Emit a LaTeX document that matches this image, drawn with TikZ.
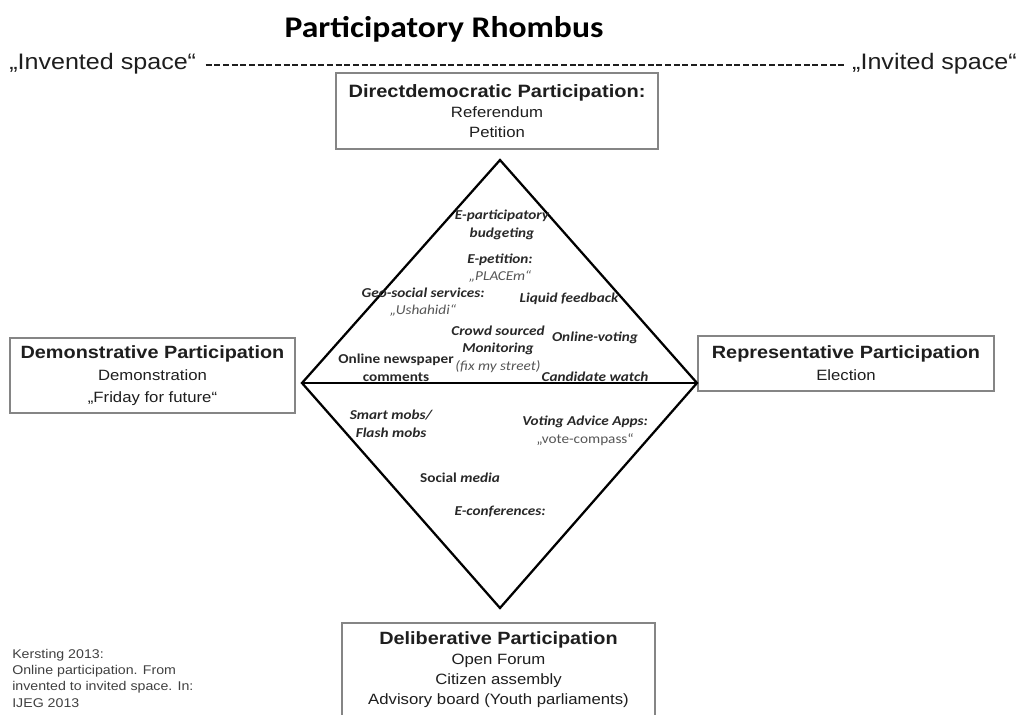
\documentclass[tikz,border=0pt]{standalone}
\usepackage{fontspec}
\setmainfont{Liberation Sans}[FakeStretch=1.12]
\newfontfamily\calibfont{Carlito}[FakeStretch=1.12]
\definecolor{rtext}{HTML}{282828}
\definecolor{qtext}{HTML}{555555}
\definecolor{boxline}{HTML}{858585}
\definecolor{btext}{HTML}{1E1E1E}
\begin{document}
\begin{tikzpicture}[x=0.75pt,y=-0.75pt,
  box/.style={draw=boxline, line width=0.9pt, fill=white, align=center, inner sep=0pt, text=btext},
  rtxt/.style={text=rtext, align=center, inner sep=0pt,
    font=\calibfont\bfseries\itshape\fontsize{10.2}{13.2}\selectfont},
  space/.style={inner sep=0pt, text=btext, font=\fontsize{16.8}{19}\selectfont},
  rhomb/.style={line width=1.7pt, line join=miter}
]
\useasboundingbox (0,0) rectangle (1019,714);
\clip (0,0) rectangle (1019,714);

% title
\node[anchor=base, inner sep=0pt, text=black,
  font=\calibfont\bfseries\fontsize{22.5}{27}\selectfont] (title) at (444,37) {Participatory Rhombus};

% invented / invited
\node[space, anchor=base west] (inv) at (9,69) {„Invented space“};
\node[space, anchor=base east] (invit) at (1017,69) {„Invited space“};
\draw[dash pattern=on 4.5pt off 2pt, line width=1.5pt, btext]
  ([xshift=7pt,yshift=-1pt]inv.east) -- ([xshift=-5pt,yshift=-1pt]invit.west);

% boxes
\node[box, minimum width=241.5pt, minimum height=57pt,
  font=\fontsize{11.2}{15}\selectfont] (direct) at (497,111)
  {{\bfseries\fontsize{13.4}{15}\selectfont Directdemocratic Participation:}\\Referendum\\Petition};
\node[box, minimum width=213.75pt, minimum height=56.25pt,
  font=\fontsize{11.2}{16.5}\selectfont] (demo) at (152.5,375.5)
  {{\bfseries\fontsize{13.3}{16.5}\selectfont Demonstrative Participation}\\Demonstration\\„Friday for future“};
\node[box, minimum width=222pt, minimum height=41.25pt,
  font=\fontsize{11.2}{16.5}\selectfont] (repr) at (846,363.5)
  {{\bfseries\fontsize{13.3}{16.5}\selectfont Representative Participation}\\Election};
\node[box, minimum width=234.75pt, minimum height=70.5pt,
  font=\fontsize{11.2}{15}\selectfont] (delib) at (498.5,670)
  {{\bfseries\fontsize{13.3}{15}\selectfont Deliberative Participation}\\Open Forum\\Citizen assembly\\Advisory board (Youth parliaments)};

% reference
\node[anchor=north west, align=left, inner sep=0pt, text=black!75,
  font=\fontsize{9.5}{12.2}\selectfont] (ref) at (12,649)
  {Kersting 2013:\\Online participation. From\\invented to invited space. In:\\IJEG 2013};

% rhombus
\coordinate (T) at (500,160);
\coordinate (L) at (302,383);
\coordinate (R) at (697,383);
\coordinate (B) at (500,608);
\draw[rhomb] (T) -- (R) -- (B) -- (L) -- cycle;
\draw[rhomb] (L) -- (R);

% texts inside the rhombus
\node[rtxt] (epart) at (502,225) {E-participatory\\budgeting};
\node[rtxt] (epet) at (500,268) {E-petition:\\{\mdseries\color{qtext}„PLACEm“}};
\node[rtxt] (geo) at (423,302) {Geo-social services:\\{\mdseries\color{qtext}„Ushahidi“}};
\node[rtxt] (liquid) at (569,299) {Liquid feedback};
\node[rtxt] (crowd) at (498,349) {Crowd sourced\\Monitoring\\{\mdseries\color{qtext}(fix my street)}};
\node[rtxt] (ovote) at (595,338) {Online-voting};
\node[rtxt, font=\calibfont\bfseries\fontsize{10.2}{13.2}\selectfont] (news) at (396,368) {Online newspaper\\comments};
\node[rtxt] (cand) at (595,377) {Candidate watch};
\node[rtxt] (smart) at (391,424) {Smart mobs/\\Flash mobs};
\node[rtxt] (vaa) at (585,431) {Voting Advice Apps:\\{\mdseries\upshape\color{qtext}„vote-compass“}};
\node[rtxt] (social) at (460,478) {{\upshape Social} media};
\node[rtxt] (econf) at (500,512) {E-conferences:};
\end{tikzpicture}
\end{document}
